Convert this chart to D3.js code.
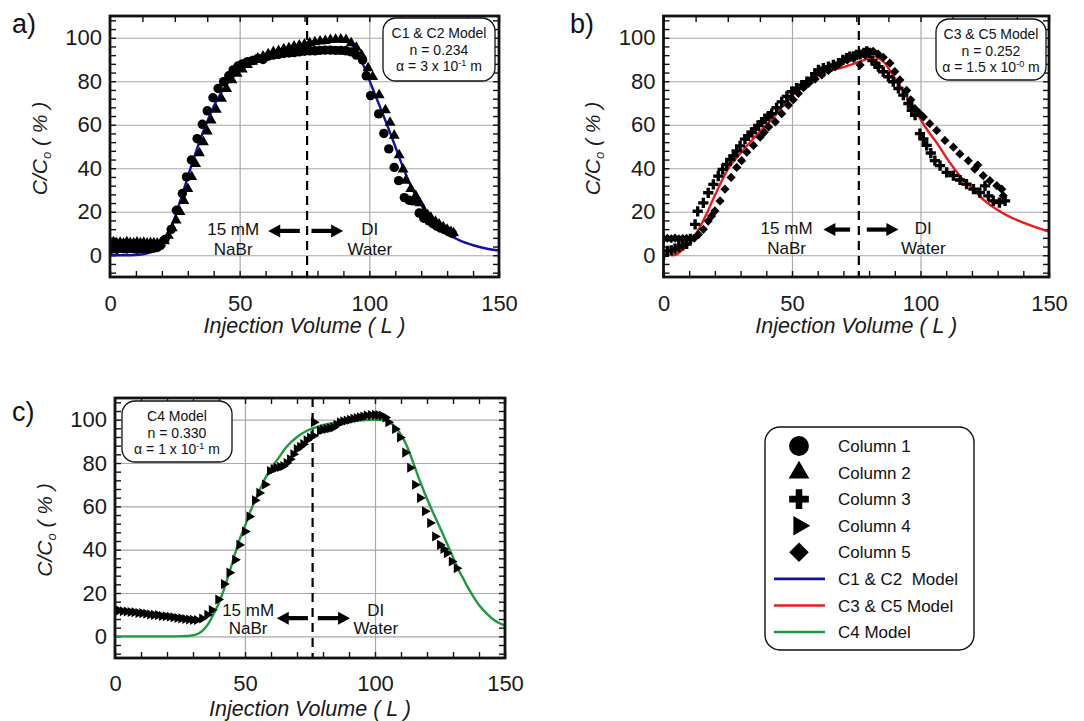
<!DOCTYPE html>
<html lang="en">
<head>
<meta charset="UTF-8">
<title>Breakthrough curves</title>
<script src="https://cdn.jsdelivr.net/npm/d3@7/dist/d3.min.js"></script>
<style>
  body { margin: 0; background: #fff; }
  svg { font-family: "Liberation Sans", Arial, sans-serif; }
</style>
</head>
<body>
<div id="app"></div>
<script>
// ---- data (x = injection volume L, y = C/Co %) ----
var c1x = [0,1.3,2.6,3.9,5.2,6.5,7.8,9.1,10.4,11.7,13,14.3,15.6,16.9,18.2,19.5,21.2,23.6,25.6,27.9,29.5,31.4,33.6,35.6,37.5,39.7,41.7,43.8,45.8,47.5,49.3,51,53,55,57,59,61,63,65,67,69,71,73,75,77,79,81,83,85,87,89,91,93,95,97.4,98.8,100.5,103.6,105.6,107.5,109.6,111.3,113.5,115.3,116.7,119.2,121,123,124.5,126,127.5,129,130.5,132];
var c1y = [2.6,3,2.8,3.2,3,2.9,3.1,3,2.8,3,3.1,2.9,3,3.3,3.6,4.5,7.3,11.9,20.7,28.4,36,43.8,53.6,60.2,66.4,72.4,76.7,79.8,82.5,85.2,87,88,89,89.5,90.5,90,91.5,92,92.3,92.8,93,93.2,93.5,93.8,94,94,94.2,94.3,94.3,94.2,94.2,94,93.5,92,89.8,82.5,73.4,65,56,48.9,40.4,34.3,26.5,25.3,25,19.4,17,15.8,14.5,13.4,12.5,11.8,10.8,10];

var c2x = [0,1.3,2.6,3.9,5.2,6.5,7.8,9.1,10.4,11.7,13,14.3,15.6,16.9,18.2,19.5,21,22.5,24,25.5,27,28.5,30,31.5,33,34.5,36,37.5,39,41,43,45,47,49,51,53,55,57,59,61,63,65,67,69,71,73,75,77,79,81,83,85,87,89,91,93,95,97,99.5,101.3,103.8,106.2,108,109.6,111.5,113,114.1,116,117.9,119.5,121.1,122.5,123.7,125.5,126.9,128.5,130,131.5,132.5];
var c2y = [5.5,6,5.6,5.8,5.5,6,5.7,5.5,5.9,5.6,5.8,5.5,5.7,5.6,5.5,5.6,6.5,9,12.5,16,20,25,30.5,36,42,47,52,57,62,67,72,76.5,80.5,83.5,85.5,87.5,89,90.5,91.5,92.5,93.5,94,94.8,95.3,96,96.5,97,97.5,98,98.3,98.6,99,99.2,99.3,99,97.5,95.5,92,86,82,73.6,66.7,61,55,46,39.5,34.3,30.5,27.3,24,20.4,18.5,17.3,15.5,14.2,13,11.8,10.8,10.2];

var c3x = [0,1.5,3,4.5,6,7.5,9,10.5,12.3,13.3,15.5,17.4,19.4,21.3,23,24.6,26,27.2,28.5,29.8,31.7,33,34.3,35.6,36.9,38.2,39.5,40.8,42.1,44,46,48,49.9,51.8,53.8,55.8,57.7,59,60.3,62.2,64.2,66.1,68.1,69.8,71.3,72.5,74,75.1,76.5,78,79.1,80.2,81.3,82.5,83.6,85.5,87.5,89.4,91.4,93.3,95.3,96.6,97.9,99.8,101.1,102.4,104,105.6,107.6,110.2,112.8,115.4,117.9,120.6,123.1,125.1,126.4,128.3,130.7,132.9];
var c3y = [0,2,2.2,3,3.7,4.5,5.2,7.5,14.2,20.2,24.1,28.7,32.6,36.4,39.5,41.8,44,45.7,48,50.3,53.4,55,56.5,58,59.7,61.2,62.8,64,65.1,67.8,70.5,73,75.2,76.8,78.2,79.8,81.3,83.5,85.2,86,86.7,87.5,88.3,89.8,90.6,91.3,91.5,92.1,92.3,93,93.8,93,89.5,88,86.7,84.4,82.1,79.8,76.7,73.6,69.8,66.7,64.4,55.9,53.5,50.5,47,43.5,41.2,38.1,36.6,34.6,32.7,30.4,28.8,31.9,27.3,25,24.2,25];

var c4x = [0,1.5,3,4.5,6,7.5,9,10.5,12,13.5,15,16.5,18,19.5,21,22.5,24,25.5,27,28.5,30,31.5,33.5,35.5,37.2,39.7,41.9,44,46.2,47.8,50,51.7,53.8,55.5,57.7,59.6,61,62.2,63.5,64.7,66,67.3,68.6,69.9,71.2,72.4,73.7,75,76.3,76.5,78.8,80,81.4,82.7,84,85.2,86.5,87.8,89.1,90.4,91.7,93,94.2,95.5,96.8,98.4,100,101.3,102.6,104,105.1,107.7,109.6,111.6,113.5,115.4,117.3,119.2,121.2,123.1,125,126.3,127.6,129.5,131.4];
var c4y = [11.8,11.9,11.6,11.5,11.2,11.1,10.8,10.7,10.4,10.1,9.9,9.8,9.4,9.3,9,8.8,8.5,8.3,8,7.8,7.6,7.5,8.2,10,12.1,17,24.1,29.4,35.3,42.2,48.4,55.3,62.8,66.2,70.1,76.3,77.2,77.8,78.2,78.6,80,81.7,84,86.4,87.5,88.7,90.5,91.8,92.6,98.8,94.9,95.4,95.7,96,96.4,97.6,98.8,99.2,99.6,100,100.4,100.8,101.1,101.5,101.9,102.1,102.2,102.1,101.9,101,98.8,95.7,91.8,84.8,77.8,70,63.9,57.7,52.3,46.1,42.2,40.3,38.4,34.5,31.4];

var c5x = [0,1.5,3,4.5,6,7.5,9,10.5,12,13.6,15.5,17.4,18.7,20,22,23.9,26.3,28.5,30.4,32.4,35,37.6,39.2,40.9,43.5,46,48.6,50.5,52.5,54.5,56.4,59,61.6,64.2,66.8,69,71.5,74,76.5,78.5,80,81.6,83.5,85.5,88.1,90,92,94.6,96.2,97.8,99.4,101.1,103.6,106.3,109.5,112.8,115.3,118.6,121.1,122.3,124.4,127,129.7,131.6,132.2];
var c5y = [7.5,7.8,7.6,7.9,7.5,7.7,7.8,7.6,7.9,9.5,11.9,15.7,18,20.4,25,30.4,35.8,40.4,43.5,47.4,50.5,54.3,56.5,59,61.3,65.1,69,71.5,74.4,77,79,81,82.9,85,86.7,88.5,89.8,90.5,87.5,92,93,93.8,92.5,91,88.3,84.5,80.6,75.8,71.5,67.4,65.5,63.6,60.5,57.4,52.8,49.7,46.6,43.5,39.6,41.5,36.6,34.3,32,30.4,27.3];

// model curves
var mAx = [0,5,10,14,17,20,22,24,26,28,30,32,34,36,38,40,43,46,50,54,58,62,66,70,75,80,85,90,92,94,96,98,100,102,104,106,108,110,112,114,116,118,120,123,126,130,135,140,145,150];
var mAy = [0,0,0.1,0.8,2.2,5.5,8.8,14,21,28.5,36,43.5,50.5,57,63,68.5,75,80,84.5,88,90.8,92.6,94,95.3,96.6,97.6,98.4,98.8,98,95.8,92,86.5,80.5,74.5,68.5,62.5,56.3,50,43.5,37.5,31.8,27,23,17.8,13.8,10,6.7,4.6,3.1,2.2];
var mBx = [3,5,7,9,11,13,15,17,19,21,23,25,27,30,33,36,39,42,46,50,53,56,60,65,70,74,77,80,82,84,86,88,90,92,95,98,100,103,107,110,113,116,120,125,130,135,140,145,150];
var mBy = [0,0.3,2.2,4.2,6.8,10.5,14.8,19.6,25,30,35,39.5,42.8,47,51,55,58.8,62.3,68,73.2,77,79.8,82.5,84.8,86.5,88,89.3,90.6,91.3,90.3,88.5,85,81.5,78,72,66.5,62.5,57,50.5,45,40,35.5,31,25,20.8,17.5,15,12.8,10.8];
var mCx = [0,10,20,26,29,32,34,36,38,40,42,44,46,48,50,52,54,56,58,60,63,66,70,74,78,82,86,90,95,100,103,106,108,110,112,114,116,118,120,122,124,126,128,130,132,134,136,138,140,143,146,150];
var mCy = [0,0,0,0.1,0.3,1.2,3,6,10.5,15.5,22,29.5,37.5,45,51,57.5,63,68.5,73.5,77.5,82.5,87.5,92,95,96.8,98,98.8,99.3,99.7,100,99.8,98.5,96.5,93,88.5,82.5,75.8,69.5,63.5,58,52.8,47.5,42,36.5,31,26.5,22,18,14.5,10.5,7.3,5];

var xLabels = [0, 50, 100, 150];
var yLabels = [0, 20, 40, 60, 80, 100];
var legendNames = ["Column 1", "Column 2", "Column 3", "Column 4", "Column 5", "C1 & C2  Model", "C3 & C5 Model", "C4 Model"];

var FONT = '"Liberation Sans", Arial, sans-serif';
var BLUE = "#1212a8", RED = "#ee1b1b", GREEN = "#1f9a3c";

function zip(xs, ys) { return xs.map(function (v, i) { return [v, ys[i]]; }); }

var shapes = {
    circle:   { type: d3.symbolCircle,   rot: 0,  size: 70,  lsize: 310 },
    triUp:    { type: d3.symbolTriangle, rot: 0,  size: 52,  lsize: 185 },
    cross:    { type: d3.symbolCross,    rot: 0,  size: 58,  lsize: 215 },
    triRight: { type: d3.symbolTriangle, rot: 90, size: 44,  lsize: 165 },
    diamond:  { type: d3.symbolSquare,   rot: 45, size: 42,  lsize: 190 }
};

var svg = d3.select("#app").append("svg")
    .attr("width", 1084)
    .attr("height", 721);

var panels = [
    { id: "a", left: 110, top: 16, w: 389, h: 261, topStep: 12.5,
      series: [{ d: zip(c1x, c1y), s: "circle" }, { d: zip(c2x, c2y), s: "triUp" }],
      model: zip(mAx, mAy), color: BLUE,
      box: { x: 383, y: 18, w: 112, h: 63, lines: ["C1 & C2 Model", "n = 0.234", ["\u03b1 = 3 x 10", "-1", " m"]] },
      label: { x: 12, y: 33 }, yTitleX: 47, xlabPad: 18, xTitleY: 333,
      ann: { ay: 11.2, lTail: 73.2, lTip: 61, rTail: 77.7, rTip: 89.9, t1: 47.5, t2: 100.2, ty1: 12, ty2: 2.8 } },
    { id: "b", left: 663.5, top: 16, w: 385.5, h: 261, topStep: 12.5,
      series: [{ d: zip(c3x, c3y), s: "cross" }, { d: zip(c5x, c5y), s: "diamond" }],
      model: zip(mBx, mBy), color: RED,
      box: { x: 936, y: 19, w: 110, h: 61, lines: ["C3 & C5 Model", "n = 0.252", ["\u03b1 = 1.5 x 10", "-0", " m"]] },
      label: { x: 570, y: 33 }, yTitleX: 600, xlabPad: 18, xTitleY: 333,
      ann: { ay: 11.8, lTail: 72.6, lTip: 62.2, rTail: 79.1, rTip: 91.4, t1: 47.9, t2: 101.1, ty1: 12.6, ty2: 3.4 } },
    { id: "c", left: 115, top: 398, w: 390, h: 260, topStep: 10,
      series: [{ d: zip(c4x, c4y), s: "triRight" }],
      model: zip(mCx, mCy), color: GREEN,
      box: { x: 122, y: 401, w: 110, h: 61, lines: ["C4 Model", "n = 0.330", ["\u03b1 = 1 x 10", "-1", " m"]] },
      label: { x: 12, y: 421 }, yTitleX: 52, xlabPad: 17, xTitleY: 716,
      ann: { ay: 8.4, lTail: 74.2, lTip: 62.2, rTail: 78, rTip: 90.4, t1: 51.2, t2: 100.3, ty1: 12.1, ty2: 3.7 } }
];

function arrow(g, x1, x2, yy) {
    var dir = x2 > x1 ? 1 : -1;
    g.append("line")
        .attr("x1", x1).attr("x2", x2 - dir * 10)
        .attr("y1", yy).attr("y2", yy)
        .attr("stroke", "#000").attr("stroke-width", 4.2);
    g.append("path")
        .attr("d", "M" + x2 + "," + yy + "L" + (x2 - dir * 12) + "," + (yy - 6.5) + "L" + (x2 - dir * 12) + "," + (yy + 6.5) + "Z")
        .attr("fill", "#000");
}

function styleAxis(sel, size) {
    sel.attr("font-family", FONT).attr("font-size", size);
    sel.select(".domain").remove();
    sel.selectAll("text").attr("fill", "#1a1a1a");
}

panels.forEach(function (p) {
    var x = d3.scaleLinear().domain([0, 150]).range([0, p.w]);
    var y = d3.scaleLinear().domain([-10, 110]).range([p.h, 0]);
    var g = svg.append("g").attr("transform", "translate(" + p.left + "," + p.top + ")");

    svg.append("clipPath").attr("id", "clip-" + p.id)
        .append("rect").attr("width", p.w).attr("height", p.h);

    // grid
    var gx = g.append("g").attr("transform", "translate(0," + p.h + ")")
        .call(d3.axisBottom(x).tickValues([50, 100]).tickSize(-p.h).tickFormat(""));
    var gy = g.append("g")
        .call(d3.axisLeft(y).tickValues(yLabels).tickSize(-p.w).tickFormat(""));
    [gx, gy].forEach(function (s) {
        s.select(".domain").remove();
        s.selectAll("line").attr("stroke", "#a9a9a9").attr("stroke-width", 1.2);
    });

    // inward minor ticks on all four sides
    var yt = d3.range(-8, 110, 4);
    var tickSets = [
        g.append("g").attr("transform", "translate(0," + p.h + ")").call(d3.axisBottom(x).tickValues(d3.range(0, 151, 10)).tickSize(-6).tickFormat("")),
        g.append("g").call(d3.axisTop(x).tickValues(d3.range(0, 150.1, p.topStep)).tickSize(-6).tickFormat("")),
        g.append("g").call(d3.axisLeft(y).tickValues(yt).tickSize(-6).tickFormat("")),
        g.append("g").attr("transform", "translate(" + p.w + ",0)").call(d3.axisRight(y).tickValues(yt).tickSize(-6).tickFormat(""))
    ];
    tickSets.forEach(function (s) {
        s.select(".domain").remove();
        s.selectAll("line").attr("stroke", "#111").attr("stroke-width", 1.4);
    });

    // tick labels
    var xl = g.append("g").attr("transform", "translate(0," + p.h + ")")
        .call(d3.axisBottom(x).tickValues(xLabels).tickSize(0).tickPadding(p.xlabPad));
    styleAxis(xl, 22);
    var yl = g.append("g")
        .call(d3.axisLeft(y).tickValues(yLabels).tickSize(0).tickPadding(8));
    styleAxis(yl, 22);

    // dashed switch line
    g.append("line")
        .attr("x1", x(76)).attr("x2", x(76))
        .attr("y1", 0).attr("y2", p.h)
        .attr("stroke", "#000").attr("stroke-width", 2.2)
        .attr("stroke-dasharray", "9,6");

    // annotations
    var a = p.ann;
    arrow(g, x(a.lTail), x(a.lTip), y(a.ay));
    arrow(g, x(a.rTail), x(a.rTip), y(a.ay));
    var at = g.append("g").attr("font-size", 17).attr("text-anchor", "middle").attr("fill", "#111");
    at.append("text").attr("x", x(a.t1)).attr("y", y(a.ty1)).attr("dy", "0.35em").text("15 mM");
    at.append("text").attr("x", x(a.t1)).attr("y", y(a.ty2)).attr("dy", "0.35em").text("NaBr");
    at.append("text").attr("x", x(a.t2)).attr("y", y(a.ty1)).attr("dy", "0.35em").text("DI");
    at.append("text").attr("x", x(a.t2)).attr("y", y(a.ty2)).attr("dy", "0.35em").text("Water");

    // model line
    var line = d3.line()
        .x(function (d) { return x(d[0]); })
        .y(function (d) { return y(d[1]); })
        .curve(d3.curveMonotoneX);
    g.append("path")
        .datum(p.model)
        .attr("clip-path", "url(#clip-" + p.id + ")")
        .attr("d", line)
        .attr("fill", "none")
        .attr("stroke", p.color)
        .attr("stroke-width", 2.4);

    // data markers
    p.series.forEach(function (s) {
        var sh = shapes[s.s];
        g.append("g").attr("clip-path", "url(#clip-" + p.id + ")")
            .selectAll("path").data(s.d).enter().append("path")
            .attr("transform", function (d) { return "translate(" + x(d[0]) + "," + y(d[1]) + ") rotate(" + sh.rot + ")"; })
            .attr("d", d3.symbol().type(sh.type).size(sh.size))
            .attr("fill", "#000");
    });

    // frame
    g.append("rect").attr("width", p.w).attr("height", p.h)
        .attr("fill", "none").attr("stroke", "#111").attr("stroke-width", 2.8);

    // parameter box
    var b = p.box;
    var bg = svg.append("g");
    bg.append("rect").attr("x", b.x).attr("y", b.y).attr("width", b.w).attr("height", b.h)
        .attr("rx", 13).attr("fill", "#fff").attr("stroke", "#111").attr("stroke-width", 1.3);
    b.lines.forEach(function (ln, i) {
        var t = bg.append("text").attr("x", b.x + b.w / 2).attr("y", b.y + 20 + i * 16.5)
            .attr("text-anchor", "middle").attr("font-size", 14).attr("fill", "#111");
        if (typeof ln === "string") { t.text(ln); return; }
        t.append("tspan").text(ln[0]);
        t.append("tspan").attr("dy", -5).attr("font-size", 9).text(ln[1]);
        t.append("tspan").attr("dy", 5).text(ln[2]);
    });

    // titles
    svg.append("text").attr("x", p.label.x).attr("y", p.label.y)
        .attr("font-size", 27).attr("fill", "#111").text(p.id + ")");
    svg.append("text")
        .attr("x", p.left + p.w / 2).attr("y", p.xTitleY)
        .attr("text-anchor", "middle").attr("font-size", 21.5).attr("font-style", "italic")
        .attr("fill", "#1a1a1a").text("Injection Volume ( L )");
    var yt2 = svg.append("text")
        .attr("transform", "translate(" + p.yTitleX + "," + (p.top + p.h / 2 + 2) + ") rotate(-90)")
        .attr("text-anchor", "middle").attr("font-size", 21).attr("font-style", "italic")
        .attr("fill", "#1a1a1a");
    yt2.append("tspan").text("C/C");
    yt2.append("tspan").attr("dy", 4).attr("font-size", 13).text("o");
    yt2.append("tspan").attr("dy", -4).text(" ( % )");
});

// legend
var lg = svg.append("g").attr("font-size", 17).attr("fill", "#111");
lg.append("rect").attr("x", 765).attr("y", 427).attr("width", 209).attr("height", 223)
    .attr("rx", 15).attr("fill", "#fff").attr("stroke", "#111").attr("stroke-width", 1.4);
var legendShapes = ["circle", "triUp", "cross", "triRight", "diamond"];
var legendColors = [BLUE, RED, GREEN];
var rowY = d3.scaleLinear().domain([0, 7]).range([446, 632]);
legendNames.forEach(function (name, i) {
    var yy = rowY(i);
    if (i < 5) {
        var sh = shapes[legendShapes[i]];
        lg.append("path")
            .attr("transform", "translate(799," + yy + ") rotate(" + sh.rot + ")")
            .attr("d", d3.symbol().type(sh.type).size(sh.lsize))
            .attr("fill", "#000");
    } else {
        lg.append("line").attr("x1", 774).attr("x2", 825).attr("y1", yy).attr("y2", yy)
            .attr("stroke", legendColors[i - 5]).attr("stroke-width", 2.6);
    }
    lg.append("text").attr("x", 838).attr("y", yy).attr("dy", "0.36em")
        .style("white-space", "pre").text(name);
});
</script>
</body>
</html>
